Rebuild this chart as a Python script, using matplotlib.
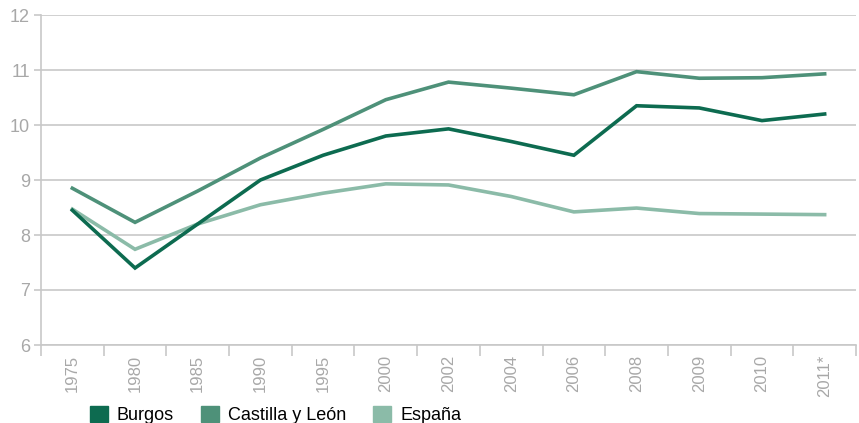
import matplotlib.pyplot as plt
from matplotlib.patches import Patch
import numpy as np

plt.rcParams['font.family'] = ['Liberation Sans', 'DejaVu Sans']

# data
years = ["1975", "1980", "1985", "1990", "1995", "2000", "2002", "2004",
         "2006", "2008", "2009", "2010", "2011*"]
burgos = [8.45, 7.4, 8.2, 9.0, 9.45, 9.8, 9.93, 9.7, 9.45, 10.35, 10.31, 10.08, 10.2]
castilla = [8.85, 8.23, 8.8, 9.4, 9.92, 10.46, 10.78, 10.67, 10.55, 10.97, 10.85, 10.86, 10.93]
espana = [8.47, 7.74, 8.2, 8.55, 8.76, 8.93, 8.91, 8.7, 8.42, 8.49, 8.39, 8.38, 8.37]

names = ["Burgos", "Castilla y León", "España"]
colors = ["#0d6b50", "#4e9179", "#8bbba8"]

fig = plt.figure(figsize=(8.59, 4.23), dpi=100)
ax = fig.add_axes([41/859, 1-345/423, 815/859, 330/423])

x = np.arange(len(years))
for vals, c in zip([espana, castilla, burgos], colors[::-1]):
    ax.plot(x, vals, color=c, lw=2.6, solid_joinstyle='miter', zorder=3)

gray = "#c8c8c8"
ax.set_ylim(6, 12)
ax.set_xlim(-0.5, len(years) - 0.5)
ax.set_yticks(range(6, 13))
ax.grid(axis='y', color=gray, lw=1.2)
ax.set_axisbelow(True)

# ticks on category borders, labels at centers
ax.set_xticks(np.arange(-0.5, len(years)), labels=[])
ax.set_xticks(x, labels=years, minor=True)
ax.tick_params(axis='x', which='major', length=8, color=gray, width=1.2)
ax.tick_params(axis='x', which='minor', length=0, labelrotation=90,
               labelsize=12, labelcolor="#a8a8a8", pad=7)
ax.tick_params(axis='y', length=5, color=gray, width=1.2,
               labelsize=13, labelcolor="#a8a8a8", pad=3)

for s in ['top', 'right']:
    ax.spines[s].set_visible(False)
for s in ['left', 'bottom']:
    ax.spines[s].set_color(gray)
    ax.spines[s].set_linewidth(1.2)

handles = [Patch(color=c, label=n) for n, c in zip(names, colors)]
fig.legend(handles=handles, loc='lower left', bbox_to_anchor=(78/859, -0.03),
           ncol=3, frameon=False, fontsize=13, handlelength=1.0,
           handleheight=1.0, handletextpad=0.5, columnspacing=1.5,
           borderpad=0.15)

fig.savefig("out.png", dpi=100)
